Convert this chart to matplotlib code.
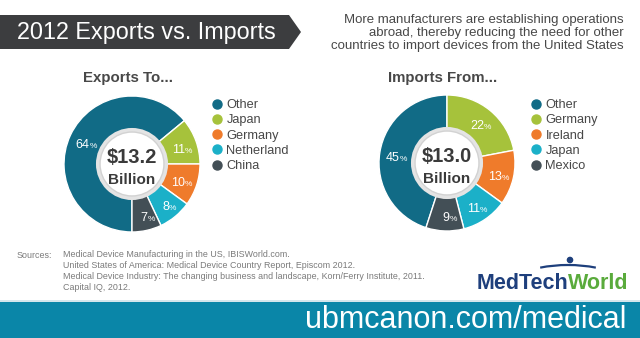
import numpy as np
import matplotlib
matplotlib.use('Agg')
import matplotlib.pyplot as plt
from matplotlib.patches import Polygon, Circle, Rectangle, Arc
from matplotlib.lines import Line2D

# data
export_labels = ['Other', 'Japan', 'Germany', 'Netherland', 'China']
export_share = [64, 11, 10, 8, 7]
import_labels = ['Other', 'Germany', 'Ireland', 'Japan', 'Mexico']
import_share = [45, 22, 13, 11, 9]
export_total = '$13.2'
import_total = '$13.0'

teal = '#116b86'
green = '#a6c23b'
orange = '#ef7b2b'
cyan = '#1bb0c8'
slate = '#434f56'
export_colors = [teal, green, orange, cyan, slate]
import_colors = [teal, green, orange, cyan, slate]

plt.rcParams['font.family'] = ['Liberation Sans', 'DejaVu Sans']
W, H = 640, 338
fig = plt.figure(figsize=(6.4, 3.38), dpi=100)
fig.patch.set_facecolor('white')

# background axes in pixel coordinates
bg = fig.add_axes([0, 0, 1, 1])
bg.set_xlim(0, W)
bg.set_ylim(H, 0)
bg.axis('off')

# title banner
bg.add_patch(Polygon([(0, 15), (289, 15), (301, 32), (289, 49), (0, 49)],
                     closed=True, fc='#3c3d3f', ec='none'))
bg.text(17, 33, '2012 Exports vs. Imports', color='white', fontsize=16.8,
        va='center', ha='left')
bg.text(624, 33, 'More manufacturers are establishing operations\n'
        'abroad, thereby reducing the need for other\n'
        'countries to import devices from the United States',
        ha='right', va='center', fontsize=9.5, color='#484848', linespacing=1.15)


def donut(cx, cy, r, labels, shares, colors, start, total, title, leg_xy):
    ax = fig.add_axes([(cx - r) / W, (H - cy - r) / H, 2 * r / W, 2 * r / H])
    wedges, _ = ax.pie(shares, colors=colors, startangle=start, counterclock=False,
                       radius=1, wedgeprops=dict(width=0.5, edgecolor='white', linewidth=1))
    ax.set_xlim(-1, 1)
    ax.set_ylim(-1, 1)
    ax.set_aspect('equal')
    for w, s in zip(wedges, shares):
        ang = np.deg2rad((w.theta1 + w.theta2) / 2)
        x, y = 0.76 * np.cos(ang), 0.76 * np.sin(ang)
        ax.text(x + 0.06, y - 0.09, str(s), color='white', fontsize=9,
                ha='right', va='baseline')
        ax.text(x + 0.06, y - 0.09, '%', color='white', fontsize=6,
                ha='left', va='baseline')
    ax.add_patch(Circle((0, 0), 0.53, fc='#e4e4e4', ec='none', zorder=3))
    ax.add_patch(Circle((0, 0), 0.47, fc='white', ec='#d2d2d2', lw=1, zorder=4))
    ax.text(0, 0.09, total, ha='center', va='center', fontsize=14.5, fontweight='bold',
            color='#3a3a3a', zorder=5)
    ax.text(0, -0.24, 'Billion', ha='center', va='center', fontsize=11,
            fontweight='bold', color='#3a3a3a', zorder=5)
    bg.text(cx - 4, 78, title, ha='center', va='center', fontsize=10.8,
            fontweight='bold', color='#484848')
    handles = [Line2D([], [], marker='o', ls='none', color=c, markersize=6.5)
               for c in colors]
    ax.legend(handles, labels, loc='upper left', frameon=False,
              bbox_to_anchor=(leg_xy[0] / W, 1 - leg_xy[1] / H),
              bbox_transform=fig.transFigure, fontsize=9.2, labelcolor='#474747',
              handlelength=0.7, handletextpad=0.35, labelspacing=0.26,
              borderpad=0, borderaxespad=0)


donut(132, 164, 68, export_labels, export_share, export_colors, 270,
      export_total, 'Exports To...', (213, 99))
donut(447, 163, 68, import_labels, import_share, import_colors, 252,
      import_total, 'Imports From...', (532, 99))

# sources
bg.text(17, 255, 'Sources:', fontsize=6.4, color='#7a7a7a', va='center')
bg.text(63, 271, 'Medical Device Manufacturing in the US, IBISWorld.com.\n'
        'United States of America: Medical Device Country Report, Episcom 2012.\n'
        'Medical Device Industry: The changing business and landscape, Korn/Ferry Institute, 2011.\n'
        'Capital IQ, 2012.', fontsize=6.4, color='#7a7a7a', va='center',
        linespacing=1.3)

# logo
bg.text(568, 289, 'MedTech', ha='right', va='baseline', fontsize=15.5,
        fontweight='bold', color='#1e3f7c')
bg.text(568, 289, 'World', ha='left', va='baseline', fontsize=15.5,
        fontweight='bold', color='#5aab3c')
bg.add_patch(Arc((568, 302), 150, 74, theta1=231, theta2=309, color='#1e3f7c', lw=1.6))
bg.add_patch(Circle((570, 260), 2.6, color='#1e3f7c'))

# bottom banner
bg.add_patch(Rectangle((0, 300), W, 1.5, fc='#d4e6ec', ec='none'))
bg.add_patch(Rectangle((0, 302), W, 36, fc='#0a86a8', ec='none'))
bg.text(626, 320, 'ubmcanon.com/medical', ha='right', va='center', fontsize=22,
        color='white')

fig.savefig('out.png', dpi=100, facecolor='white')
